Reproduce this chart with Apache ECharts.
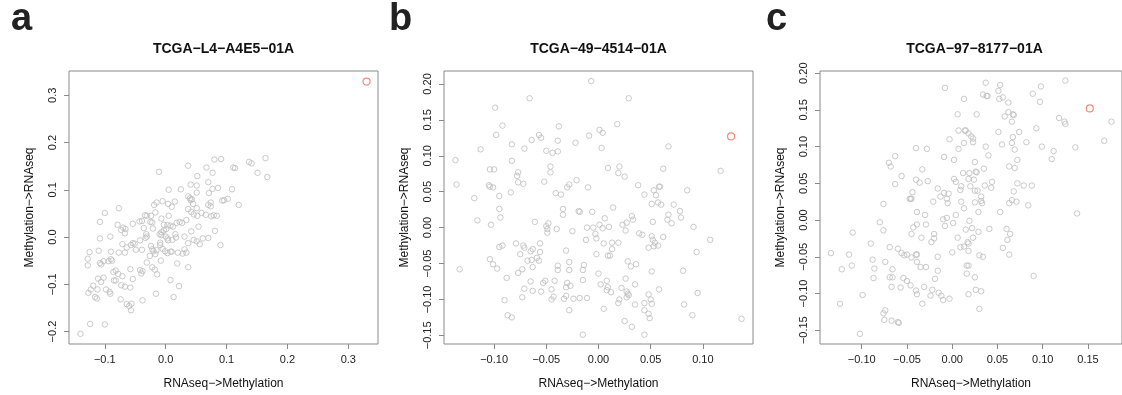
<!DOCTYPE html>
<html>
<head>
<meta charset="utf-8">
<script src="https://cdn.jsdelivr.net/npm/echarts@6/dist/echarts.min.js"></script>
<style>
  html, body { margin: 0; padding: 0; background: #fff; }
  #main { width: 1122px; height: 395px; }
</style>
</head>
<body>
<div id="main"></div>
<script>
// 三个样本的散点 [RNAseq->Methylation, Methylation->RNAseq]
var sampleNames = ['TCGA\u2212L4\u2212A4E5\u221201A', 'TCGA\u221249\u22124514\u221201A', 'TCGA\u221297\u22128177\u221201A']
var panelLetters = ['a', 'b', 'c']

var aPoints = [
  [0.080,0.164],[0.091,0.165],[0.137,0.159],[0.141,0.156],[0.164,0.167],[0.037,0.151],[0.067,0.147],[0.111,0.147],[0.114,0.146],[-0.011,0.138],
  [0.077,0.136],[0.151,0.136],[0.167,0.127],[0.052,0.129],[0.070,0.116],[0.041,0.111],[0.051,0.109],[0.005,0.100],[0.025,0.101],[0.077,0.102],
  [0.086,0.104],[0.109,0.101],[0.051,0.094],[0.071,0.093],[0.037,0.086],[0.040,0.082],[0.043,0.080],[0.041,0.078],[-0.005,0.076],[0.004,0.070],
  [0.010,0.064],[0.015,0.075],[-0.015,0.073],[-0.019,0.068],[0.045,0.070],[0.070,0.068],[0.074,0.065],[0.074,0.073],[0.093,0.077],[0.096,0.078],
  [0.102,0.081],[0.120,0.068],[-0.077,0.061],[-0.100,0.051],[0.051,0.061],[0.037,0.059],[0.042,0.053],[0.046,0.048],[0.052,0.045],[0.059,0.051],
  [0.066,0.047],[0.075,0.044],[0.079,0.046],[0.084,0.045],[0.005,0.045],[-0.108,0.032],[-0.079,0.026],[-0.054,0.028],[-0.043,0.033],[-0.039,0.034],
  [-0.034,0.046],[-0.031,0.045],[-0.024,0.045],[-0.017,0.052],[-0.025,0.032],[-0.022,0.031],[-0.070,0.020],[-0.066,0.017],[-0.073,0.015],[-0.067,0.008],
  [-0.036,0.019],[-0.021,0.018],[-0.007,0.039],[-0.003,0.026],[0.003,0.025],[0.008,0.024],[0.012,0.022],[0.018,0.030],[0.023,0.032],[0.027,0.030],
  [0.034,0.036],[0.054,0.022],[0.081,0.013],[-0.091,0.001],[-0.108,-0.003],[-0.032,0.006],[-0.031,0.001],[-0.033,-0.002],[-0.042,-0.007],[-0.051,-0.014],
  [-0.007,0.010],[-0.003,0.014],[0.001,0.017],[-0.010,0.006],[-0.007,0.004],[0.000,0.001],[0.016,0.006],[0.017,-0.001],[0.011,-0.006],[0.004,-0.007],
  [0.003,-0.003],[0.031,0.001],[0.037,-0.013],[0.042,0.012],[0.046,-0.006],[0.051,-0.009],[0.056,-0.015],[0.061,-0.003],[0.070,-0.002],[0.090,-0.017],
  [-0.071,-0.015],[-0.064,-0.022],[-0.067,-0.033],[-0.057,-0.017],[-0.054,-0.013],[-0.049,-0.027],[-0.039,-0.027],[-0.077,-0.033],[-0.090,-0.031],[-0.110,-0.029],
  [-0.125,-0.032],[-0.024,-0.019],[-0.022,-0.026],[-0.020,-0.030],[-0.015,-0.028],[-0.026,-0.040],[-0.017,-0.036],[-0.009,-0.012],[-0.009,-0.017],[-0.005,-0.025],
  [-0.001,-0.030],[0.003,-0.034],[0.008,-0.031],[0.010,-0.031],[0.020,-0.033],[0.028,-0.035],[0.031,-0.026],[0.034,-0.033],[-0.128,-0.046],[-0.128,-0.060],
  [-0.108,-0.055],[-0.106,-0.058],[-0.102,-0.051],[-0.094,-0.051],[-0.090,-0.047],[-0.088,-0.050],[-0.031,-0.054],[-0.008,-0.050],[0.019,-0.056],[0.037,-0.064],
  [-0.086,-0.074],[-0.082,-0.071],[-0.078,-0.078],[-0.071,-0.083],[-0.058,-0.068],[-0.042,-0.070],[-0.038,-0.072],[-0.040,-0.077],[-0.022,-0.064],[-0.014,-0.079],
  [-0.018,-0.069],[-0.111,-0.088],[-0.106,-0.095],[-0.102,-0.086],[-0.119,-0.103],[-0.123,-0.111],[-0.127,-0.118],[-0.112,-0.111],[-0.098,-0.111],[-0.092,-0.116],
  [-0.091,-0.120],[-0.085,-0.092],[-0.082,-0.092],[-0.073,-0.102],[-0.067,-0.105],[-0.058,-0.107],[-0.054,-0.089],[0.008,-0.091],[0.022,-0.104],[-0.016,-0.120],
  [0.013,-0.127],[-0.116,-0.127],[-0.113,-0.130],[-0.074,-0.132],[-0.064,-0.142],[-0.056,-0.141],[-0.060,-0.146],[-0.057,-0.155],[-0.038,-0.134],[-0.124,-0.184],
  [-0.100,-0.185],[-0.140,-0.205]
]

var bPoints = [
  [-0.007,0.204],[-0.066,0.180],[-0.099,0.167],[-0.092,0.142],[-0.098,0.129],[-0.038,0.141],[-0.057,0.129],[-0.055,0.125],[-0.064,0.122],[-0.039,0.121],
  [-0.022,0.118],[-0.009,0.128],[-0.113,0.109],[-0.083,0.116],[-0.071,0.110],[-0.050,0.107],[-0.044,0.104],[-0.039,0.106],[-0.137,0.094],[-0.083,0.093],
  [-0.104,0.081],[-0.100,0.081],[-0.046,0.085],[-0.046,0.077],[-0.077,0.077],[-0.078,0.072],[-0.077,0.063],[-0.072,0.061],[-0.052,0.064],[-0.136,0.060],
  [-0.105,0.059],[-0.104,0.057],[-0.101,0.056],[-0.084,0.049],[-0.095,0.044],[-0.119,0.041],[-0.041,0.048],[-0.036,0.046],[-0.030,0.056],[-0.028,0.060],
  [-0.021,0.066],[-0.010,0.056],[-0.095,0.026],[-0.094,0.014],[-0.116,0.010],[-0.103,0.004],[-0.034,0.026],[-0.034,0.018],[-0.019,0.023],[-0.018,0.022],
  [-0.006,0.022],[-0.061,0.008],[-0.048,0.006],[-0.050,0.002],[-0.049,-0.002],[-0.049,-0.007],[-0.040,-0.002],[-0.025,-0.005],[-0.011,0.000],[-0.005,0.000],
  [-0.012,-0.017],[-0.003,-0.009],[-0.002,-0.015],[-0.095,-0.027],[-0.092,-0.025],[-0.079,-0.022],[-0.072,-0.025],[-0.071,-0.028],[-0.075,-0.037],[-0.065,-0.033],
  [-0.063,-0.030],[-0.056,-0.022],[-0.056,-0.034],[-0.031,-0.032],[-0.068,-0.046],[-0.064,-0.045],[-0.059,-0.042],[-0.057,-0.046],[-0.063,-0.055],[-0.104,-0.044],
  [-0.101,-0.051],[-0.097,-0.057],[-0.133,-0.058],[-0.073,-0.058],[-0.077,-0.063],[-0.088,-0.070],[-0.039,-0.053],[-0.039,-0.059],[-0.028,-0.048],[-0.028,-0.059],
  [-0.014,-0.052],[-0.015,-0.059],[-0.015,-0.073],[-0.065,-0.075],[-0.053,-0.077],[-0.051,-0.074],[-0.042,-0.074],[-0.071,-0.085],[-0.063,-0.088],[-0.055,-0.089],
  [-0.045,-0.086],[-0.030,-0.077],[-0.027,-0.081],[-0.031,-0.083],[-0.090,-0.101],[-0.073,-0.097],[-0.045,-0.100],[-0.043,-0.096],[-0.033,-0.099],[-0.031,-0.095],
  [-0.024,-0.099],[-0.018,-0.098],[-0.011,-0.098],[-0.028,-0.115],[-0.087,-0.122],[-0.083,-0.125],[-0.015,-0.149],
  [0.029,0.180],[0.018,0.144],[0.001,0.136],[0.004,0.132],[0.003,0.111],[0.067,0.113],[0.009,0.083],[0.020,0.085],[0.019,0.076],[0.025,0.071],
  [0.062,0.082],[0.117,0.079],[0.038,0.059],[0.044,0.046],[0.053,0.052],[0.055,0.045],[0.058,0.057],[0.059,0.057],[0.051,0.033],[0.057,0.035],
  [0.060,0.032],[0.072,0.032],[0.085,0.052],[0.014,0.028],[0.078,0.023],[0.079,0.014],[0.067,0.018],[0.066,0.011],[0.070,0.006],[0.091,0.001],
  [0.006,0.013],[0.001,0.004],[0.004,-0.001],[0.010,0.001],[0.023,0.004],[0.027,0.007],[0.032,0.016],[0.033,0.011],[0.026,-0.004],[0.052,0.008],
  [0.039,-0.008],[0.042,-0.010],[0.051,-0.012],[0.052,-0.017],[0.054,-0.021],[0.057,-0.025],[0.048,-0.028],[0.053,-0.026],[0.062,-0.013],[0.107,-0.017],
  [0.005,-0.022],[0.013,-0.021],[0.019,-0.021],[0.013,-0.030],[-0.002,-0.037],[0.009,-0.039],[0.011,-0.039],[0.094,-0.034],[0.028,-0.047],[0.031,-0.054],
  [0.036,-0.051],[0.051,-0.061],[0.081,-0.060],[0.000,-0.064],[0.008,-0.074],[0.002,-0.079],[0.009,-0.083],[0.008,-0.087],[0.012,-0.090],[0.022,-0.084],
  [0.026,-0.071],[0.035,-0.079],[0.027,-0.089],[0.028,-0.092],[0.029,-0.094],[0.027,-0.097],[0.020,-0.100],[0.019,-0.105],[0.048,-0.093],[0.050,-0.100],
  [0.051,-0.106],[0.044,-0.105],[0.058,-0.086],[0.095,-0.091],[0.035,-0.107],[0.005,-0.113],[0.044,-0.115],[0.048,-0.120],[0.049,-0.126],[0.082,-0.107],
  [0.090,-0.122],[0.137,-0.127],[0.025,-0.130],[0.032,-0.138],[0.044,-0.149]
]

var cPoints = [
  [-0.008,0.180],[0.013,0.165],[0.006,0.144],[0.007,0.122],[0.014,0.122],[-0.003,0.110],[0.007,0.097],[0.013,0.105],[-0.040,0.098],[-0.028,0.097],
  [-0.063,0.087],[-0.009,0.086],[0.002,0.082],[-0.070,0.078],[-0.068,0.073],[-0.033,0.069],[0.012,0.064],[-0.056,0.060],[-0.040,0.055],[-0.036,0.051],
  [-0.027,0.053],[-0.063,0.049],[0.002,0.056],[0.004,0.052],[0.010,0.046],[0.009,0.041],[-0.016,0.043],[-0.009,0.037],[-0.004,0.036],[-0.013,0.032],
  [-0.006,0.029],[-0.005,0.023],[-0.044,0.038],[-0.047,0.029],[-0.046,0.029],[-0.045,0.029],[-0.021,0.025],[0.010,0.025],[0.013,0.016],[-0.076,0.022],
  [-0.039,0.011],[-0.030,0.007],[0.004,0.007],[-0.010,0.001],[-0.006,0.003],[0.001,-0.004],[-0.008,-0.008],[-0.080,-0.003],[-0.043,-0.010],[-0.029,-0.006],
  [-0.076,-0.014],[-0.110,-0.017],[-0.045,-0.019],[-0.039,-0.006],[-0.020,-0.019],[-0.020,-0.025],[-0.023,-0.030],[-0.034,-0.024],[0.006,-0.024],[0.000,-0.044],
  [0.009,-0.037],[0.013,-0.036],[-0.090,-0.032],[-0.069,-0.037],[-0.060,-0.039],[-0.056,-0.045],[-0.053,-0.048],[-0.050,-0.047],[-0.045,-0.051],[-0.040,-0.047],
  [-0.039,-0.047],[-0.039,-0.057],[-0.035,-0.064],[-0.029,-0.064],[-0.016,-0.050],[-0.134,-0.045],[-0.114,-0.047],[-0.088,-0.054],[-0.111,-0.062],[-0.122,-0.067],
  [-0.086,-0.066],[-0.087,-0.079],[-0.074,-0.057],[-0.066,-0.067],[-0.069,-0.078],[-0.066,-0.078],[-0.067,-0.091],[-0.057,-0.092],[-0.054,-0.079],[-0.050,-0.083],
  [-0.046,-0.089],[-0.040,-0.096],[-0.039,-0.101],[-0.031,-0.091],[-0.019,-0.080],[-0.016,-0.069],[-0.022,-0.095],[-0.024,-0.103],[-0.015,-0.099],[-0.012,-0.103],
  [-0.010,-0.109],[-0.003,-0.107],[-0.033,-0.114],[-0.099,-0.102],[-0.124,-0.114],[-0.074,-0.123],[-0.076,-0.127],[-0.075,-0.136],[-0.067,-0.137],[-0.060,-0.139],
  [-0.059,-0.140],[-0.102,-0.155],
  [0.037,0.187],[0.053,0.184],[0.098,0.182],[0.125,0.190],[0.051,0.176],[0.034,0.171],[0.039,0.169],[0.038,0.169],[0.052,0.165],[0.056,0.167],
  [0.062,0.160],[0.089,0.172],[0.097,0.161],[0.027,0.144],[0.058,0.141],[0.062,0.147],[0.067,0.144],[0.068,0.143],[0.066,0.134],[0.118,0.139],
  [0.124,0.134],[0.125,0.131],[0.176,0.134],[0.015,0.122],[0.018,0.118],[0.021,0.114],[0.023,0.111],[0.023,0.106],[0.051,0.120],[0.074,0.120],
  [0.067,0.113],[0.093,0.125],[0.037,0.100],[0.040,0.088],[0.055,0.103],[0.066,0.105],[0.069,0.096],[0.082,0.106],[0.099,0.100],[0.112,0.094],
  [0.110,0.083],[0.136,0.099],[0.168,0.108],[0.025,0.079],[0.026,0.066],[0.027,0.065],[0.035,0.070],[0.063,0.073],[0.069,0.071],[0.072,0.082],
  [0.019,0.064],[0.018,0.056],[0.024,0.055],[0.020,0.046],[0.036,0.047],[0.044,0.052],[0.043,0.044],[0.025,0.040],[0.028,0.040],[0.032,0.032],
  [0.032,0.026],[0.033,0.023],[0.072,0.050],[0.079,0.047],[0.088,0.047],[0.068,0.039],[0.025,0.024],[0.063,0.023],[0.066,0.027],[0.071,0.025],
  [0.084,0.020],[0.029,0.011],[0.053,0.011],[0.138,0.009],[0.019,-0.001],[0.015,-0.013],[0.022,-0.011],[0.029,-0.016],[0.041,-0.012],[0.060,-0.012],
  [0.064,-0.019],[0.061,-0.027],[0.023,-0.024],[0.017,-0.030],[0.018,-0.032],[0.018,-0.042],[0.056,-0.038],[0.063,-0.047],[0.030,-0.048],[0.034,-0.050],
  [0.016,-0.062],[0.018,-0.062],[0.016,-0.073],[0.025,-0.078],[0.090,-0.076],[0.026,-0.095],[0.032,-0.097],[0.018,-0.101],[0.030,-0.121]
]

// 红色高亮点
var highlightPoints = [[0.330, 0.329], [0.127, 0.127], [0.152, 0.152]]

// 坐标轴范围与刻度
var xRanges = [[-0.1588, 0.3488], [-0.148, 0.148], [-0.1461, 0.1876]]
var yRanges = [[-0.2264, 0.3514], [-0.162, 0.218], [-0.1688, 0.203]]
var xTicks = [[-0.1, 0, 0.1, 0.2, 0.3], [-0.1, -0.05, 0, 0.05, 0.1], [-0.1, -0.05, 0, 0.05, 0.1, 0.15]]
var yTicks = [[-0.2, -0.1, 0, 0.1, 0.2, 0.3], [-0.15, -0.1, -0.05, 0, 0.05, 0.1, 0.15, 0.2], [-0.15, -0.1, -0.05, 0, 0.05, 0.1, 0.15, 0.2]]
var tickDigits = [1, 2, 2]

var gridLefts = [69, 444, 820]
var letterLefts = [11, 389, 766]
var FONT = '"Liberation Sans", Arial, Helvetica, sans-serif'
var BOX = '#8a8a8a'

function fmt(d) {
    return function (v) {
        if (Math.abs(v) < 1e-9) { v = 0 }
        return (v < 0 ? '\u2212' : '') + Math.abs(v).toFixed(d)
    }
}

var allPoints = [aPoints, bPoints, cPoints]
var grids = [], xAxes = [], yAxes = [], series = [], graphics = []

for (var i = 0; i < 3; i++) {
    grids.push({
        left: gridLefts[i], top: 71, width: 309, height: 276,
        show: true, borderColor: BOX, borderWidth: 1, backgroundColor: 'transparent'
    })
    xAxes.push({
        gridIndex: i, type: 'value', min: xRanges[i][0], max: xRanges[i][1],
        axisLine: { show: false, onZero: false },
        splitLine: { show: false },
        axisTick: { show: true, length: 5, lineStyle: { color: BOX }, customValues: xTicks[i] },
        axisLabel: {
            customValues: xTicks[i], formatter: fmt(tickDigits[i]), margin: 10,
            color: '#222', fontSize: 11, fontFamily: FONT
        },
        name: 'RNAseq\u2212>Methylation', nameLocation: 'middle', nameGap: 34,
        nameTextStyle: { color: '#111', fontSize: 12, fontFamily: FONT }
    })
    yAxes.push({
        gridIndex: i, type: 'value', min: yRanges[i][0], max: yRanges[i][1],
        axisLine: { show: false, onZero: false },
        splitLine: { show: false },
        axisTick: { show: true, length: 5, lineStyle: { color: BOX }, customValues: yTicks[i] },
        axisLabel: {
            customValues: yTicks[i], formatter: fmt(tickDigits[i]), margin: 11, rotate: 90,
            color: '#222', fontSize: 11, fontFamily: FONT
        },
        name: 'Methylation\u2212>RNAseq', nameLocation: 'middle', nameGap: 33,
        nameTextStyle: { color: '#111', fontSize: 12, fontFamily: FONT }
    })
    series.push({
        type: 'scatter', xAxisIndex: i, yAxisIndex: i,
        data: allPoints[i], symbol: 'circle', symbolSize: 5.5,
        itemStyle: { color: 'transparent', borderColor: '#bdbdbd', borderWidth: 1 },
        silent: true
    })
    series.push({
        type: 'scatter', xAxisIndex: i, yAxisIndex: i,
        data: [highlightPoints[i]], symbol: 'circle', symbolSize: 7,
        itemStyle: { color: 'transparent', borderColor: '#f26b58', borderWidth: 1.2 },
        silent: true
    })
    // 标题居中于绘图区
    graphics.push({
        type: 'text', x: gridLefts[i] + 154.5, y: 49,
        style: { text: sampleNames[i], fill: '#111', font: 'bold 14px ' + FONT, align: 'center', verticalAlign: 'middle' }
    })
    // 面板字母
    graphics.push({
        type: 'text', left: letterLefts[i], top: 1,
        style: { text: panelLetters[i], fill: '#222', font: 'bold 38px ' + FONT }
    })
}

var myChart = echarts.init(document.getElementById('main'))
myChart.setOption({
    animation: false,
    backgroundColor: '#fff',
    grid: grids,
    xAxis: xAxes,
    yAxis: yAxes,
    series: series,
    graphic: graphics
})
</script>
</body>
</html>
